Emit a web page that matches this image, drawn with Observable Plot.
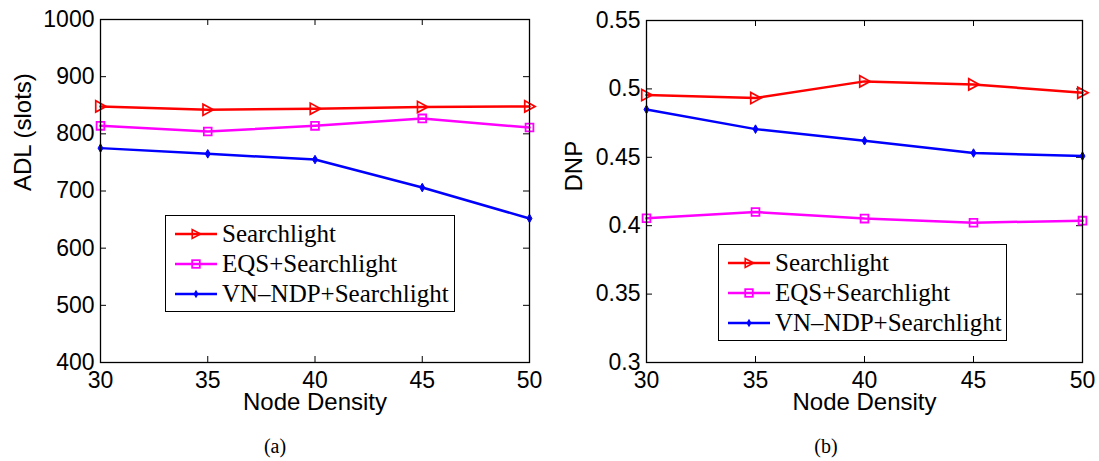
<!DOCTYPE html>
<html><head><meta charset="utf-8">
<script src="https://cdn.jsdelivr.net/npm/d3@7"></script>
<script src="https://cdn.jsdelivr.net/npm/@observablehq/plot@0.6"></script>
<style>
body{margin:0;background:#fff;}
#wrap{position:relative;width:1099px;height:461px;overflow:hidden;background:#fff}
.panel{position:absolute;top:0}
.cap{position:absolute;font-family:"Liberation Serif",serif;font-size:20px;line-height:20px;transform:translateX(-50%);white-space:nowrap}
.legend{position:absolute;background:#fff;border:1.3px solid #000;box-sizing:border-box}
.legend svg{position:absolute;left:0;top:0;overflow:visible}
</style></head><body><div id="wrap"></div>
<script>
// ---- data ----
const density = [30, 35, 40, 45, 50];
const seriesNames = ["Searchlight", "EQS+Searchlight", "VN\u2013NDP+Searchlight"];
const seriesColors = ["#ff0000", "#ff00ff", "#0000ff"];
const adlSearchlight = [848, 842, 844, 847, 848];
const adlEQS = [814, 804, 814, 827, 811];
const adlVN = [775, 765, 755, 706, 652];
const dnpSearchlight = [0.4955, 0.4933, 0.5055, 0.5033, 0.4972];
const dnpEQS = [0.4054, 0.4100, 0.4052, 0.4022, 0.4037];
const dnpVN = [0.4850, 0.4706, 0.4621, 0.4531, 0.4509];
const xTicks = [30, 35, 40, 45, 50];
const adlTicks = [400, 500, 600, 700, 800, 900, 1000];
const dnpTicks = [0.3, 0.35, 0.4, 0.45, 0.5, 0.55];
const xLabel = "Node Density";
const captions = ["(a)", "(b)"];

const triRight = {draw(ctx, size) {
  const r = Math.sqrt(size / Math.PI);
  ctx.moveTo(r, 0); ctx.lineTo(-r * 0.85, -r); ctx.lineTo(-r * 0.85, r); ctx.closePath();
}};

function markers(data, s) {
  if (s === 0) return Plot.dot(data, {x: "x", y: "y", symbol: triRight, r: 5.6, stroke: seriesColors[0], strokeWidth: 1.7, fill: "none"});
  if (s === 1) return Plot.dot(data, {x: "x", y: "y", symbol: "square", r: 4.4, stroke: seriesColors[1], strokeWidth: 1.8, fill: "none"});
  return Plot.dot(data, {x: "x", y: "y", symbol: "diamond", r: 2.6, fill: seriesColors[2], stroke: seriesColors[2], strokeWidth: 1});
}

function panel({values, yDomain, yTicks, yLabel, width, mL, mR, mT, mB, labelDx}) {
  const H = 461;
  const fw = width - mL - mR, fh = H - mT - mB;
  const rows = [];
  values.forEach((arr, s) => arr.forEach((v, i) => rows.push({x: density[i], y: v, s})));
  const bySeries = s => rows.filter(d => d.s === s);
  const seriesMarks = [];
  values.forEach((_, s) => {
    seriesMarks.push(Plot.line(bySeries(s), {x: "x", y: "y", stroke: seriesColors[s], strokeWidth: 2.5}));
    seriesMarks.push(markers(bySeries(s), s));
  });
  return Plot.plot({
    width, height: H, marginLeft: mL, marginRight: mR, marginTop: mT, marginBottom: mB,
    x: {domain: [30, 50], label: null},
    y: {domain: yDomain, label: null},
    style: {fontFamily: "'Liberation Sans', Arial, sans-serif", fontSize: "23px", color: "#000", background: "transparent", overflow: "visible"},
    marks: [
      Plot.axisX(xTicks, {tickSize: 0, tickPadding: 9, tickFormat: d => String(d), label: null}),
      Plot.axisY(yTicks, {tickSize: 0, tickPadding: 6, tickFormat: d => String(d), label: null}),
      Plot.tickX(xTicks, {x: d => d, insetTop: fh - 6, stroke: "#000"}),
      Plot.tickX(xTicks, {x: d => d, insetBottom: fh - 6, stroke: "#000"}),
      Plot.tickY(yTicks, {y: d => d, insetRight: fw - 6, stroke: "#000"}),
      Plot.tickY(yTicks, {y: d => d, insetLeft: fw - 6, stroke: "#000"}),
      ...seriesMarks,
      Plot.frame({stroke: "#000", strokeWidth: 1.3}),
      Plot.text([yLabel], {frameAnchor: "left", text: d => d, rotate: -90, dx: labelDx, fill: "#000", fontSize: 24}),
      Plot.text([xLabel], {frameAnchor: "bottom", text: d => d, dy: 47, fill: "#000", fontSize: 24})
    ]
  });
}

function legend(left, top, width, height) {
  const div = document.createElement("div");
  div.className = "legend";
  Object.assign(div.style, {left: left + "px", top: top + "px", width: width + "px", height: height + "px"});
  const svg = d3.create("svg").attr("width", width).attr("height", height);
  seriesNames.forEach((name, s) => {
    const base = 26 + s * 30, ly = base - 8;
    svg.append("line").attr("x1", 9).attr("x2", 51).attr("y1", ly).attr("y2", ly)
      .attr("stroke", seriesColors[s]).attr("stroke-width", 2.5);
    const g = svg.append("g").attr("transform", `translate(30,${ly})`);
    if (s === 0) {
      g.append("path").attr("d", "M4.5,0L-3.8,-4.5L-3.8,4.5Z").attr("fill", "none").attr("stroke", seriesColors[0]).attr("stroke-width", 1.6);
    } else if (s === 1) {
      g.append("rect").attr("x", -3.8).attr("y", -3.8).attr("width", 7.6).attr("height", 7.6).attr("fill", "none").attr("stroke", seriesColors[1]).attr("stroke-width", 1.8);
    } else {
      g.append("path").attr("d", d3.symbol(d3.symbolDiamond, 2.6 * 2.6 * Math.PI)()).attr("fill", seriesColors[2]);
    }
    svg.append("text").attr("x", 56).attr("y", base).text(name)
      .attr("font-family", "'Liberation Serif', 'Times New Roman', serif").attr("font-size", 25).attr("fill", "#000");
  });
  div.appendChild(svg.node());
  return div;
}

const wrap = document.getElementById("wrap");
const p1 = panel({values: [adlSearchlight, adlEQS, adlVN], yDomain: [400, 1000], yTicks: adlTicks, yLabel: "ADL (slots)",
  width: 550, mL: 100, mR: 21, mT: 19, mB: 99, labelDx: -77});
p1.classList.add("panel"); p1.style.left = "0px";
const p2 = panel({values: [dnpSearchlight, dnpEQS, dnpVN], yDomain: [0.3, 0.55], yTicks: dnpTicks, yLabel: "DNP",
  width: 549, mL: 96, mR: 17, mT: 20, mB: 99, labelDx: -72});
p2.classList.add("panel"); p2.style.left = "550px";
wrap.appendChild(p1); wrap.appendChild(p2);
wrap.appendChild(legend(165, 215, 290, 97));
wrap.appendChild(legend(718, 244, 289, 97));
[[275, captions[0]], [826, captions[1]]].forEach(([cx, t]) => {
  const c = document.createElement("div");
  c.className = "cap"; c.style.left = cx + "px"; c.style.top = "436px"; c.textContent = t;
  wrap.appendChild(c);
});
</script></body></html>
